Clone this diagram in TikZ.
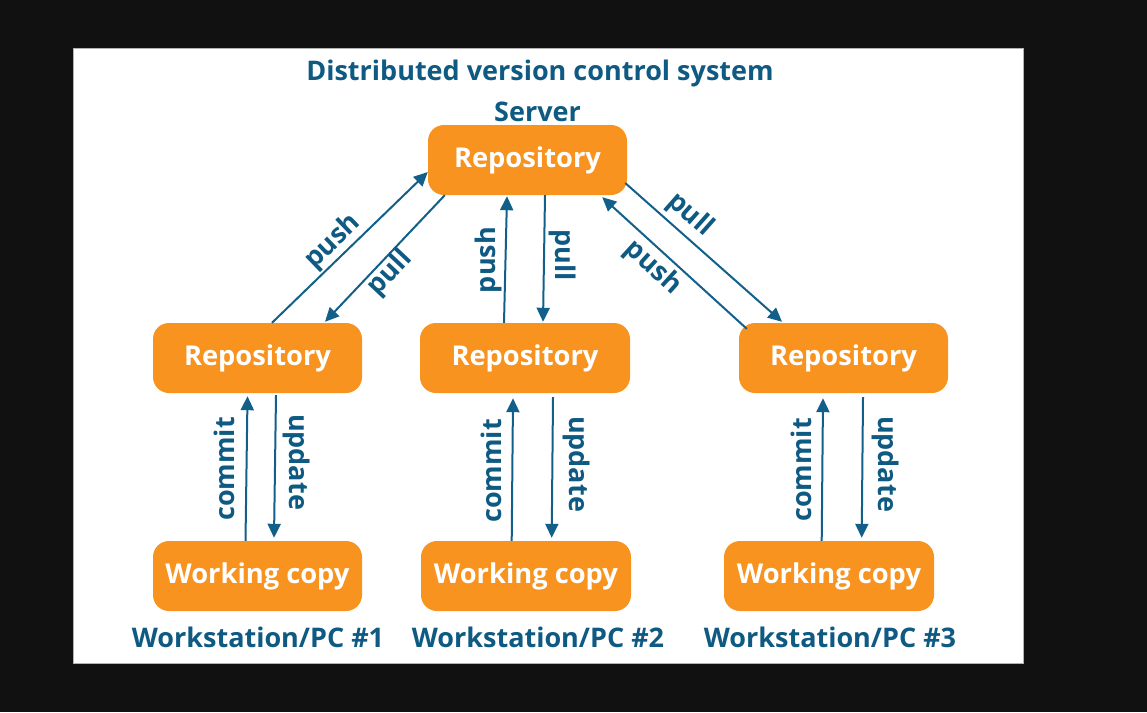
\documentclass[tikz,border=0pt]{standalone}
\usepackage{fontspec}
\setmainfont{Open Sans}
\usetikzlibrary{arrows.meta,calc}
\definecolor{bgdark}{HTML}{111111}
\definecolor{orng}{HTML}{F7931E}
\definecolor{dblue}{HTML}{0E5A82}
\definecolor{ablue}{HTML}{12608A}
\tikzset{
  box/.style={fill=orng, rounded corners=16pt, inner sep=0pt, minimum height=70pt,
    text=white, font=\fontsize{27.3}{30}\selectfont\bfseries},
  lbl/.style={text=dblue, inner sep=0pt, font=\fontsize{27}{30}\selectfont\bfseries},
  conn/.style={draw=ablue, line width=2pt, -{Triangle[length=14pt,width=13pt]}}
}
\begin{document}
\begin{tikzpicture}[x=1pt,y=-1pt]
\useasboundingbox (0,0) rectangle (1147,712);
\fill[bgdark] (0,0) rectangle (1147,712);
\filldraw[fill=white, draw=gray!60, line width=0.8pt] (73,48) rectangle (1023,663);

\node[lbl] (title) at (540,73) {Distributed version control system};
\node[lbl] (server) at (537.5,112) {Server};

\node[box, minimum width=199pt] (srv) at (527.5,160) {Repository};
\node[box, minimum width=209pt] (r1) at (257.5,358) {Repository};
\node[box, minimum width=210pt] (r2) at (525,358) {Repository};
\node[box, minimum width=209pt] (r3) at (843.5,358) {Repository};
\node[box, minimum width=209pt] (w1) at (257.5,576) {Working copy};
\node[box, minimum width=210pt] (w2) at (526,576) {Working copy};
\node[box, minimum width=210pt] (w3) at (829,576) {Working copy};

\node[lbl] (pc1) at (258,637) {Workstation/PC \#1};
\node[lbl] (pc2) at (538,637) {Workstation/PC \#2};
\node[lbl] (pc3) at (830,637) {Workstation/PC \#3};

% server <-> left repository
\draw[conn] ($(r1.north)+(14.5,0)$) -- ($(srv.west)+(0,12)$);
\draw[conn] ($(srv.south west)+(17,0)$) -- ($(r1.north)+(67.5,-1)$);
\node[lbl, rotate=44] (lpush) at (333,242) {push};
\node[lbl, rotate=46.6] (lpull) at (390,273) {pull};

% server <-> middle repository
\draw[conn] ($(r2.north)+(-21,0)$) -- ($(srv.south)+(-20.5,1)$);
\draw[conn] ($(srv.south)+(17.5,0)$) -- ($(r2.north)+(18,-1)$);
\node[lbl, rotate=90] (mpush) at (488,260) {push};
\node[lbl, rotate=-90] (mpull) at (563,255) {pull};

% server <-> right repository
\draw[conn] ($(srv.east)+(-2,23)$) -- ($(r3.north)+(-61.5,-1)$);
\draw[conn] ($(r3.north west)+(8,6)$) -- ($(srv.south east)+(-25,2)$);
\node[lbl, rotate=-41.5] (rpull) at (690,215) {pull};
\node[lbl, rotate=-42.3] (rpush) at (653,268) {push};

% working copies <-> repositories
\draw[conn] ($(w1.north)+(-12,0)$) -- ($(r1.south)+(-10,3)$);
\draw[conn] ($(r1.south)+(18.5,2)$) -- ($(w1.north)+(16.5,-3)$);
\node[lbl, rotate=90] (c1) at (224,469) {commit};
\node[lbl, rotate=-90] (u1) at (297,462) {update};

\draw[conn] ($(w2.north)+(-14.3,0)$) -- ($(r2.south)+(-12,5)$);
\draw[conn] ($(r2.south)+(28,4)$) -- ($(w2.north)+(25.7,-3)$);
\node[lbl, rotate=90] (c2) at (491,471) {commit};
\node[lbl, rotate=-90] (u2) at (577,464) {update};

\draw[conn] ($(w3.north)+(-7.3,0)$) -- ($(r3.south)+(-20.5,5)$);
\draw[conn] ($(r3.south)+(19.5,4)$) -- ($(w3.north)+(32.7,-3)$);
\node[lbl, rotate=90] (c3) at (801,470) {commit};
\node[lbl, rotate=-90] (u3) at (885,464) {update};
\end{tikzpicture}
\end{document}
